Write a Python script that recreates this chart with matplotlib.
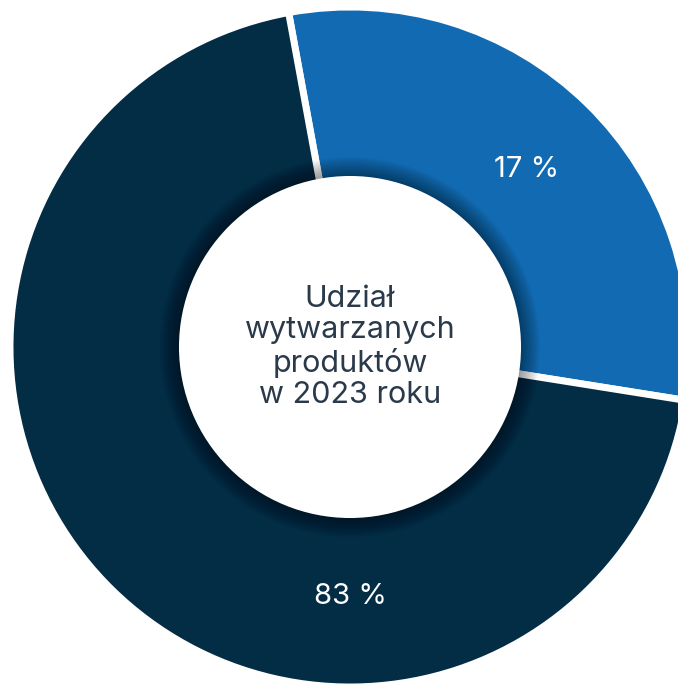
import matplotlib
matplotlib.use("Agg")
import matplotlib.pyplot as plt
from matplotlib.patches import Circle
import numpy as np

# values shown on the chart
labels = ["17 %", "83 %"]
shares = [17, 83]
# arc sizes as drawn in the picture (the drawing is not to scale)
arc_sizes = [30.4, 69.6]
colors = ["#126bb2", "#032c45"]
center_text = "Udział\nwytwarzanych\nproduktów\nw 2023 roku"

plt.rcParams["font.family"] = ["Inter", "DejaVu Sans"]

W, H = 678, 684
fig = plt.figure(figsize=(W / 100, H / 100), dpi=100)
ax = fig.add_axes([0, 0, 1, 1])

# pixel geometry of the ring
cx, cy, r_px = 350, 347, 340
hole = 0.503

# ring runs a bit under the white hole so no stroke shows at its rim
ax.pie(
    arc_sizes,
    colors=colors,
    startangle=100.4,
    counterclock=False,
    radius=1.0,
    wedgeprops=dict(width=1 - hole + 0.04, edgecolor="white", linewidth=5),
)

# soft shadow cast by the hole onto the ring
for i in range(14):
    ax.add_patch(Circle((0, 0), hole + 0.004 * (14 - i), color="black", alpha=0.03, lw=0))
ax.add_patch(Circle((0, 0), hole, color="white", lw=0))

ax.text(0, 0.0, center_text, ha="center", va="center", fontsize=22,
        color="#2a3a4b", linespacing=1.16)

# percentage labels inside the ring
lab_r = 0.735
ang = np.deg2rad(45.2)
ax.text(lab_r * np.cos(ang), lab_r * np.sin(ang), labels[0], ha="center", va="center",
        fontsize=21, color="white")
ax.text(0, -lab_r, labels[1], ha="center", va="center", fontsize=21, color="white")

ax.set_xlim(-cx / r_px, (W - cx) / r_px)
ax.set_ylim(-(H - cy) / r_px, cy / r_px)
ax.set_aspect("auto")
ax.axis("off")

fig.savefig("out.png", dpi=100)
